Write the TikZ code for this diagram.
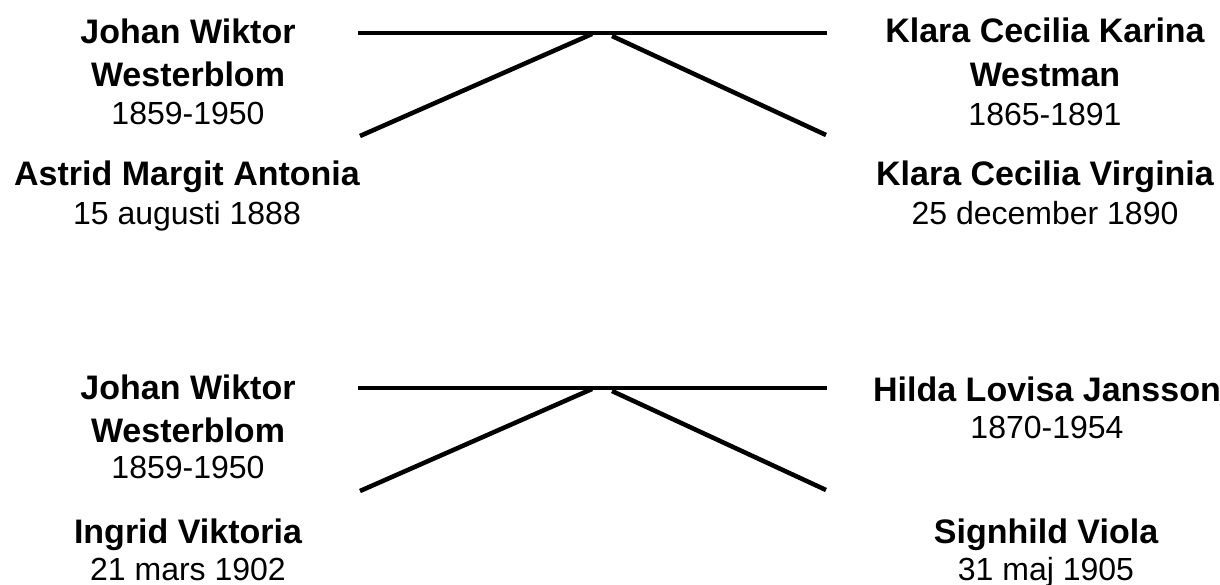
\documentclass[tikz,border=0pt]{standalone}
\usepackage{fontspec}
\setmainfont{Liberation Sans}
\usetikzlibrary{positioning}
\tikzset{
  namelabel/.style={anchor=base, inner sep=0pt, font=\fontsize{25.5}{30}\selectfont\bfseries},
  datelabel/.style={anchor=base, inner sep=0pt, font=\fontsize{24}{28}\selectfont},
  link/.style={line width=3.4pt, line cap=butt}
}

\begin{document}
\begin{tikzpicture}[x=0.75pt, y=-0.75pt]
\useasboundingbox (0,0) rectangle (1220,585);

% first marriage
\node[namelabel] (wiktor1) at (188,44) {Johan Wiktor};
\node[namelabel] (wiktor1b) at (188,87) {Westerblom};
\node[datelabel] (wiktor1d) at (188,124) {1859-1950};
\node[namelabel] (klara) at (1045,43) {Klara Cecilia Karina};
\node[namelabel] (klarab) at (1045,87) {Westman};
\node[datelabel] (klarad) at (1045,125) {1865-1891};
\node[namelabel] (astrid) at (187,185) {Astrid Margit Antonia};
\node[datelabel] (astridd) at (187,224) {15 augusti 1888};
\node[namelabel] (virginia) at (1045,185) {Klara Cecilia Virginia};
\node[datelabel] (virginiad) at (1045,224) {25 december 1890};

\coordinate (couple1l) at (358,33);
\coordinate (couple1r) at (827,33);
\coordinate (join1l) at (592,34);
\coordinate (join1r) at (612,36);
\coordinate (kid1l) at (360,136);
\coordinate (kid1r) at (826,135);
\draw[link] (couple1l) -- (couple1r);
\draw[link] (kid1l) -- (join1l);
\draw[link] (join1r) -- (kid1r);

% second marriage
\node[namelabel] (wiktor2) at (188,399) {Johan Wiktor};
\node[namelabel] (wiktor2b) at (188,442) {Westerblom};
\node[datelabel] (wiktor2d) at (188,478) {1859-1950};
\node[namelabel] (hilda) at (1047,401) {Hilda Lovisa Jansson};
\node[datelabel] (hildad) at (1047,438) {1870-1954};
\node[namelabel] (ingrid) at (188,543) {Ingrid Viktoria};
\node[datelabel] (ingridd) at (188,580) {21 mars 1902};
\node[namelabel] (signhild) at (1046,543) {Signhild Viola};
\node[datelabel] (signhildd) at (1046,580) {31 maj 1905};

\coordinate (couple2l) at (358,388);
\coordinate (couple2r) at (827,388);
\coordinate (join2l) at (592,389);
\coordinate (join2r) at (612,391);
\coordinate (kid2l) at (360,491);
\coordinate (kid2r) at (826,490);
\draw[link] (couple2l) -- (couple2r);
\draw[link] (kid2l) -- (join2l);
\draw[link] (join2r) -- (kid2r);
\end{tikzpicture}
\end{document}
